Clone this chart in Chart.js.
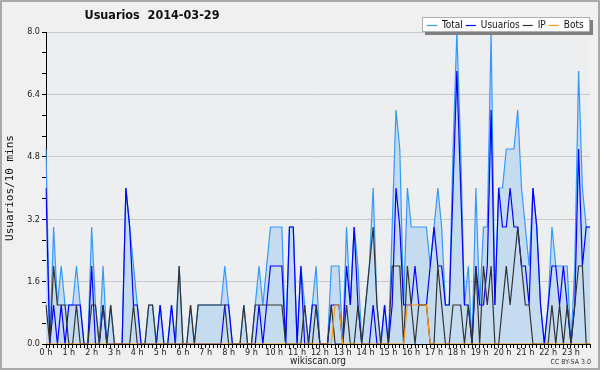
<!DOCTYPE html>
<html>
<head>
<meta charset="utf-8">
<script src="https://cdn.jsdelivr.net/npm/chart.js@4.4.1/dist/chart.umd.min.js"></script>
<style>
    html, body { margin: 0; padding: 0; background: #f0f0f0; }
    #wrap { width: 600px; height: 370px; }
</style>
</head>
<body>
<div id="wrap"><canvas id="myChart" width="600" height="370"></canvas></div>
<script>
// valores cada 10 minutos (144 puntos)
var total = [5,0,3,1,2,1,1,1,2,1, 0,0,3,1,0,2,0,1,0,0, 0,4,3,2,1,0,0,1,1,0, 1,0,0,1,0,2,0,0,1,0,
    1,1,1,1,1,1,1,2,1,0, 0,0,1,0,0,1,2,1,2,3, 3,3,3,0,3,3,0,2,1,0, 1,2,0,0,0,2,2,2,0,3,
    1,3,2,0,1,2,4,1,0,1, 0,3,6,5,1,4,3,3,3,3, 3,2,3,4,3,1,1,5,8,5, 1,2,0,4,1,3,3,8,1,4,
    4,5,5,5,6,4,3,2,4,3, 1,0,1,3,2,2,2,2,0,2, 7,4,3,3];
var usuarios = [4,0,1,0,1,0,1,1,1,1, 0,0,2,0,0,1,0,0,0,0, 0,4,3,1,1,0,0,0,0,0, 1,0,0,1,0,0,0,0,0,0,
    0,0,0,0,0,0,0,1,1,0, 0,0,0,0,0,0,1,0,1,2, 2,2,2,0,3,3,0,2,0,0, 1,1,0,0,0,1,1,1,0,2,
    1,3,1,0,0,0,1,0,0,1, 0,1,4,3,1,1,1,2,1,1, 1,2,3,2,2,1,1,4,7,4, 1,1,0,2,1,1,2,6,1,4,
    3,3,4,3,3,2,2,1,4,3, 1,0,1,2,2,1,2,1,0,1, 5,2,3,3];
var ip = [1,0,2,1,1,1,0,0,1,0, 0,0,1,1,0,1,0,1,0,0, 0,0,0,1,0,0,0,1,1,0, 0,0,0,0,0,2,0,0,1,0,
    1,1,1,1,1,1,1,1,0,0, 0,0,1,0,0,1,1,1,1,1, 1,1,1,0,0,0,0,0,1,0, 0,1,0,0,0,1,0,0,0,1,
    0,0,1,0,1,2,3,1,0,0, 0,2,2,2,0,2,1,0,1,1, 1,0,0,2,1,0,0,1,1,1, 0,1,0,2,0,2,1,2,0,0,
    1,2,1,2,3,2,1,1,0,0, 0,0,0,1,0,1,0,1,0,1, 2,2,0,0];
var bots = [0,0,0,0,0,0,0,0,0,0, 0,0,0,0,0,0,0,0,0,0, 0,0,0,0,0,0,0,0,0,0, 0,0,0,0,0,0,0,0,0,0,
    0,0,0,0,0,0,0,0,0,0, 0,0,0,0,0,0,0,0,0,0, 0,0,0,0,0,0,0,0,0,0, 0,0,0,0,0,0,1,1,0,0,
    0,0,0,0,0,0,0,0,0,0, 0,0,0,0,0,1,1,1,1,1, 1,0,0,0,0,0,0,0,0,0, 0,0,0,0,0,0,0,0,0,0,
    0,0,0,0,0,0,0,0,0,0, 0,0,0,0,0,0,0,0,0,0, 0,0,0,0];

var hourLabels = ['0 h','1 h','2 h','3 h','4 h','5 h','6 h','7 h','8 h','9 h','10 h','11 h',
    '12 h','13 h','14 h','15 h','16 h','17 h','18 h','19 h','20 h','21 h','22 h','23 h'];
var yTickLabels = ['0.0', '1.6', '3.2', '4.8', '6.4', '8.0'];
var yMax = 8;

var seriesNames = ['Total', 'Usuarios', 'IP', 'Bots'];
var seriesColors = ['#3399ff', '#0000ff', '#333333', '#ff9900'];

// etiquetas de tiempo
var labels = [];
for (var h = 0; h < 24; h++) {
    for (var m = 0; m < 60; m += 10) {
        labels.push(h + ':' + (m < 10 ? '0' : '') + m);
    }
}

var baseFont = '"DejaVu Sans Condensed", "DejaVu Sans", sans-serif';

// fondo y marco
var bgPlugin = {
    id: 'bg',
    beforeDraw: function (chart) {
        var ctx = chart.ctx, a = chart.chartArea;
        ctx.save();
        ctx.fillStyle = '#f0f0f0';
        ctx.fillRect(0, 0, chart.width, chart.height);
        ctx.fillStyle = '#eceef0';
        ctx.fillRect(a.left, a.top, a.right - a.left, a.bottom - a.top);
        ctx.strokeStyle = '#a8a8a8';
        ctx.lineWidth = 2;
        ctx.strokeRect(1, 1, chart.width - 2, chart.height - 2);
        ctx.restore();
    }
};

// titulo, leyenda y creditos
var textPlugin = {
    id: 'texts',
    afterDraw: function (chart) {
        var ctx = chart.ctx;
        ctx.save();
        ctx.fillStyle = '#111';
        ctx.font = 'bold 12.5px ' + baseFont;
        ctx.textAlign = 'center';
        ctx.textBaseline = 'middle';
        ctx.fillText('Usuarios  2014-03-29', 152, 16);

        ctx.font = '7px ' + baseFont;
        ctx.textAlign = 'right';
        ctx.fillStyle = '#333';
        ctx.fillText('CC BY-SA 3.0', 591, 362);

        // leyenda
        var bx = 422, by = 17, bw = 168, bh = 15;
        ctx.fillStyle = '#808080';
        ctx.fillRect(bx + 3, by + 3, bw, bh);
        ctx.fillStyle = '#ffffff';
        ctx.fillRect(bx, by, bw, bh);
        ctx.strokeStyle = '#b0b0b0';
        ctx.lineWidth = 1;
        ctx.strokeRect(bx + 0.5, by + 0.5, bw - 1, bh - 1);

        ctx.font = '10px ' + baseFont;
        ctx.textAlign = 'left';
        var x = bx + 5, y = by + 8;
        chart.data.datasets.forEach(function (ds) {
            ctx.strokeStyle = ds.borderColor;
            ctx.lineWidth = 1.2;
            ctx.beginPath();
            ctx.moveTo(x, y + 0.5);
            ctx.lineTo(x + 10, y + 0.5);
            ctx.stroke();
            ctx.fillStyle = '#111';
            ctx.fillText(ds.label, x + 15, y);
            x += 15 + ctx.measureText(ds.label).width + 3;
        });
        ctx.restore();
    }
};

function makeSet(i, data, order) {
    return {
        label: seriesNames[i],
        data: data,
        borderColor: seriesColors[i],
        borderWidth: 1.2,
        pointRadius: 0,
        tension: 0,
        fill: false,
        order: order
    };
}

var dsTotal = makeSet(0, total, 4);
dsTotal.fill = 'origin';
dsTotal.backgroundColor = '#c5dcf0';

var config = {
    type: 'line',
    data: {
        labels: labels,
        datasets: [dsTotal, makeSet(1, usuarios, 3), makeSet(2, ip, 2), makeSet(3, bots, 1)]
    },
    options: {
        responsive: false,
        animation: false,
        layout: { padding: { top: 32, right: 10, left: 0, bottom: 0 } },
        plugins: {
            legend: { display: false },
            tooltip: { enabled: false }
        },
        scales: {
            x: {
                grid: { drawOnChartArea: false, drawTicks: true, tickLength: 4, tickColor: '#000' },
                border: { display: true, color: '#000', width: 1 },
                ticks: {
                    autoSkip: false,
                    maxRotation: 0,
                    minRotation: 0,
                    padding: -1,
                    color: '#222',
                    font: { family: baseFont, size: 9 },
                    callback: function (val, idx) {
                        return idx % 6 === 0 ? hourLabels[idx / 6] : '';
                    }
                },
                title: {
                    display: true,
                    text: 'wikiscan.org',
                    color: '#222',
                    font: { family: baseFont, size: 10 },
                    padding: { top: 0, bottom: 3 }
                },
                afterFit: function (scale) { scale.height = 26; }
            },
            y: {
                min: 0,
                max: yMax,
                afterBuildTicks: function (axis) {
                    var t = [];
                    for (var k = 0; k <= 15; k++) t.push({ value: k * yMax / 15 });
                    axis.ticks = t;
                },
                grid: {
                    color: function (c) { return c.index % 3 === 0 ? '#c8c8c8' : 'rgba(0,0,0,0)'; },
                    tickColor: '#000',
                    tickLength: 4,
                    drawTicks: true
                },
                border: { display: true, color: '#000', width: 1 },
                ticks: {
                    padding: 2,
                    color: '#222',
                    font: { family: baseFont, size: 9 },
                    callback: function (val, idx) {
                        return idx % 3 === 0 ? yTickLabels[idx / 3] : '';
                    }
                },
                title: {
                    display: true,
                    text: 'Usuarios/10 mins',
                    color: '#111',
                    font: { family: '"DejaVu Sans Mono", monospace', size: 11 },
                    padding: { top: 4, bottom: 0 }
                },
                afterFit: function (scale) { scale.width = 46; }
            }
        }
    },
    plugins: [bgPlugin, textPlugin]
};

var chart = new Chart(document.getElementById('myChart'), config);
</script>
</body>
</html>
